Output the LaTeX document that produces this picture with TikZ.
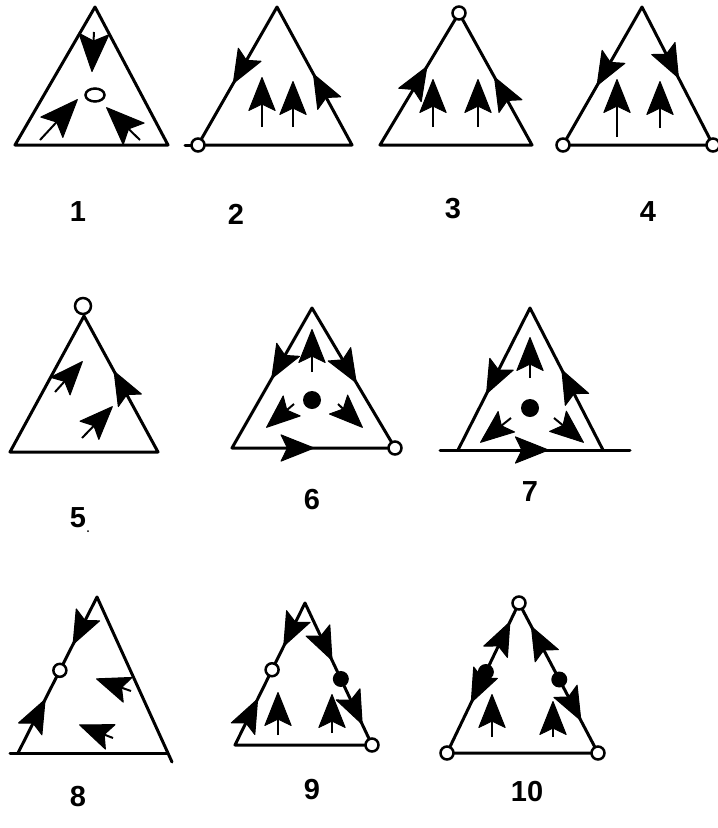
\documentclass[tikz,border=0pt]{standalone}
\usepackage{fontspec}
\setmainfont{Liberation Sans}
\usetikzlibrary{calc,shapes.geometric}
% arrowhead: tip #1, pointing away from #2
\newcommand\bhead[2]{\filldraw[line width=1pt,line join=round] ($(#1)!-0.5pt!(#2)$) -- ($(#1)!35pt!22:(#2)$) -- ($(#1)!26pt!(#2)$) -- ($(#1)!35pt!-22:(#2)$) -- cycle;}
\newcommand\bigbhead[2]{\filldraw[line width=1pt,line join=round] ($(#1)!-0.5pt!(#2)$) -- ($(#1)!40pt!22:(#2)$) -- ($(#1)!30pt!(#2)$) -- ($(#1)!40pt!-22:(#2)$) -- cycle;}
\newcommand\ehead[3]{\coordinate (eh) at ($(#1)!#3!(#2)$); \bhead{eh}{#1}}
\newcommand\iarr[2]{\draw[shaft] (#1) -- ($(#2)!24pt!(#1)$); \bhead{#2}{#1}}
\newcommand\biarr[2]{\draw[shaft] (#1) -- ($(#2)!28pt!(#1)$); \bigbhead{#2}{#1}}
\begin{document}
\begin{tikzpicture}[x=1pt,y=-1pt,
  edge/.style={line width=3pt,line cap=round,line join=round},
  shaft/.style={line width=2pt},
  ocirc/.style={circle,draw,line width=2.5pt,fill=white,minimum size=13pt,inner sep=0pt},
  fcirc/.style={circle,fill=black,minimum size=18pt,inner sep=0pt},
  lab/.style={font=\bfseries\fontsize{29}{30}\selectfont,inner sep=0pt}]
\useasboundingbox (0,0) rectangle (718,828);
% ---------- 1
\coordinate (t1a) at (95,7); \coordinate (t1l) at (15,145); \coordinate (t1r) at (168,145);
\draw[edge] (t1a) -- (t1l) -- (t1r) -- cycle;
\coordinate (t1p) at (94,32); \coordinate (t1q) at (92,71);
\biarr{t1p}{t1q}
\coordinate (t1s) at (40,140); \coordinate (t1t) at (77,100);
\biarr{t1s}{t1t}
\coordinate (t1u) at (140,140); \coordinate (t1v) at (107,108);
\biarr{t1u}{t1v}
\node (t1o) [ellipse,draw,line width=2.5pt,minimum width=19pt,minimum height=13pt,inner sep=0pt] at (95,95) {};
\node[lab] (n1) at (78,212) {1};
% ---------- 2
\coordinate (t2a) at (277,7); \coordinate (t2l) at (198,145); \coordinate (t2r) at (352,145);
\coordinate (t2x) at (185,145);
\draw[edge] (t2a) -- (t2l) -- (t2r) -- cycle;
\draw[edge] (t2x) -- (t2l);
\ehead{t2a}{t2l}{0.55}
\ehead{t2r}{t2a}{0.51}
\coordinate (t2p) at (262,127); \coordinate (t2q) at (262,78);
\iarr{t2p}{t2q}
\coordinate (t2s) at (293,127); \coordinate (t2t) at (293,82);
\iarr{t2s}{t2t}
\node[ocirc] (t2c) at (t2l) {};
\node[lab] (n2) at (236,214) {2};
% ---------- 3
\coordinate (t3a) at (459,13); \coordinate (t3l) at (380,145); \coordinate (t3r) at (532,145);
\draw[edge] (t3a) -- (t3l) -- (t3r) -- cycle;
\ehead{t3l}{t3a}{0.59}
\ehead{t3r}{t3a}{0.51}
\coordinate (t3p) at (433,127); \coordinate (t3q) at (433,80);
\iarr{t3p}{t3q}
\coordinate (t3s) at (478,127); \coordinate (t3t) at (478,80);
\iarr{t3s}{t3t}
\node[ocirc] (t3c) at (t3a) {};
\node[lab] (n3) at (453,209) {3};
% ---------- 4
\coordinate (t4a) at (642,7); \coordinate (t4l) at (563,145); \coordinate (t4r) at (713,145);
\draw[edge] (t4a) -- (t4l) -- (t4r) -- cycle;
\ehead{t4a}{t4l}{0.565}
\ehead{t4a}{t4r}{0.51}
\coordinate (t4p) at (617,137); \coordinate (t4q) at (617,80);
\iarr{t4p}{t4q}
\coordinate (t4s) at (660,128); \coordinate (t4t) at (660,82);
\iarr{t4s}{t4t}
\node[ocirc] (t4c) at (t4l) {};
\node[ocirc] (t4d) at (t4r) {};
\node[lab] (n4) at (648,212) {4};
% ---------- 5
\coordinate (t5a) at (84,316); \coordinate (t5l) at (10,452); \coordinate (t5r) at (158,452);
\draw[edge] (t5a) -- (t5l) -- (t5r) -- cycle;
\ehead{t5r}{t5a}{0.59}
\coordinate (t5p) at (55,392); \coordinate (t5q) at (82,362);
\iarr{t5p}{t5q}
\coordinate (t5s) at (82,438); \coordinate (t5t) at (112,407);
\iarr{t5s}{t5t}
\node[ocirc,minimum size=16pt] (t5c) at (83,306) {};
\node[lab] (n5) at (78,518) {5};
\fill (88,531) circle (1pt);
% ---------- 6
\coordinate (t6a) at (312,308); \coordinate (t6l) at (232,448); \coordinate (t6r) at (395,448);
\draw[edge] (t6a) -- (t6l) -- (t6r) -- cycle;
\ehead{t6a}{t6l}{0.5}
\ehead{t6a}{t6r}{0.53}
\ehead{t6l}{t6r}{0.5}
\coordinate (t6p) at (312,372); \coordinate (t6q) at (312,330);
\iarr{t6p}{t6q}
\coordinate (t6s) at (294,404); \coordinate (t6t) at (267,427);
\iarr{t6s}{t6t}
\coordinate (t6u) at (338,404); \coordinate (t6v) at (362,427);
\iarr{t6u}{t6v}
\node[fcirc] (t6d) at (312,400) {};
\node[ocirc] (t6c) at (t6r) {};
\node[lab] (n6) at (312,500) {6};
% ---------- 7
\coordinate (t7a) at (530,308); \coordinate (t7l) at (458,450); \coordinate (t7r) at (603,450);
\coordinate (t7x) at (440,450); \coordinate (t7y) at (630,450);
\draw[edge] (t7l) -- (t7a) -- (t7r);
\draw[edge] (t7x) -- (t7y);
\ehead{t7a}{t7l}{0.6}
\ehead{t7r}{t7a}{0.56}
\ehead{t7l}{t7r}{0.62}
\coordinate (t7p) at (530,378); \coordinate (t7q) at (530,338);
\iarr{t7p}{t7q}
\coordinate (t7s) at (511,418); \coordinate (t7t) at (481,442);
\iarr{t7s}{t7t}
\coordinate (t7u) at (554,418); \coordinate (t7v) at (583,442);
\iarr{t7u}{t7v}
\node[fcirc] (t7d) at (530,408) {};
\node[lab] (n7) at (530,492) {7};
% ---------- 8
\coordinate (t8a) at (97,597); \coordinate (t8l) at (18,753); \coordinate (t8r) at (172,762);
\coordinate (t8x) at (10,753); \coordinate (t8y) at (167,753);
\draw[edge] (t8l) -- (t8a) -- (t8r);
\draw[edge] (t8x) -- (t8y);
\ehead{t8a}{t8l}{0.3}
\ehead{t8l}{t8a}{0.34}
\coordinate (t8p) at (131,691); \coordinate (t8q) at (97,679);
\iarr{t8p}{t8q}
\coordinate (t8s) at (113,738); \coordinate (t8t) at (80,725);
\iarr{t8s}{t8t}
\node[ocirc] (t8c) at ($(t8a)!0.47!(t8l)$) {};
\node[lab] (n8) at (78,797) {8};
% ---------- 9
\coordinate (t9a) at (305,603); \coordinate (t9l) at (235,745); \coordinate (t9r) at (372,745);
\draw[edge] (t9a) -- (t9l) -- (t9r) -- cycle;
\ehead{t9a}{t9l}{0.3}
\ehead{t9l}{t9a}{0.32}
\ehead{t9a}{t9r}{0.4}
\ehead{t9a}{t9r}{0.85}
\coordinate (t9p) at (278,735); \coordinate (t9q) at (278,693);
\iarr{t9p}{t9q}
\coordinate (t9s) at (332,733); \coordinate (t9t) at (332,695);
\iarr{t9s}{t9t}
\node[ocirc] (t9c) at ($(t9a)!0.47!(t9l)$) {};
\node[fcirc,minimum size=16pt] (t9d) at ($(t9a)!0.535!(t9r)$) {};
\node[ocirc] (t9e) at (t9r) {};
\node[lab] (n9) at (312,790) {9};
% ---------- 10
\coordinate (t10a) at (519,603); \coordinate (t10l) at (447,753); \coordinate (t10r) at (598,753);
\draw[edge] (t10a) -- (t10l) -- (t10r) -- cycle;
\ehead{t10l}{t10a}{0.87}
\ehead{t10a}{t10l}{0.66}
\ehead{t10r}{t10a}{0.84}
\ehead{t10a}{t10r}{0.78}
\coordinate (t10p) at (492,737); \coordinate (t10q) at (492,695);
\iarr{t10p}{t10q}
\coordinate (t10s) at (553,737); \coordinate (t10t) at (553,702);
\iarr{t10s}{t10t}
\node[fcirc,minimum size=16pt] (t10d) at ($(t10a)!0.46!(t10l)$) {};
\node[fcirc,minimum size=16pt] (t10e) at ($(t10a)!0.51!(t10r)$) {};
\node[ocirc] (t10c) at (t10a) {};
\node[ocirc] (t10f) at (t10l) {};
\node[ocirc] (t10g) at (t10r) {};
\node[lab] (n10) at (527,792) {10};
\end{tikzpicture}
\end{document}
